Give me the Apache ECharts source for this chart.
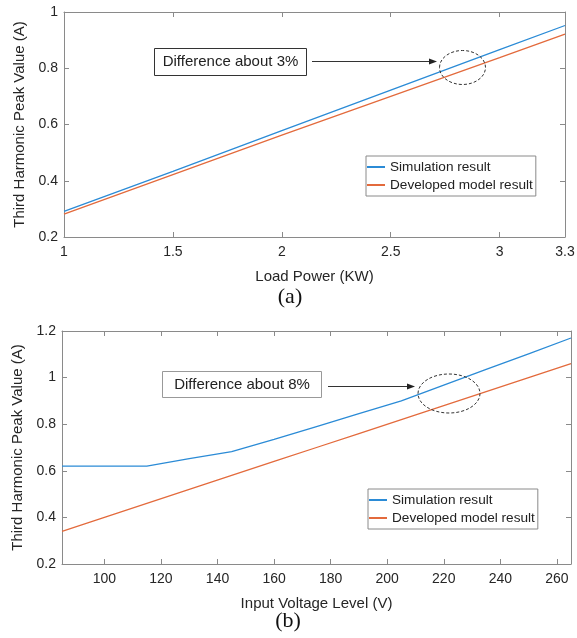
<!DOCTYPE html>
<html>
<head>
<meta charset="utf-8">
<script src="https://cdn.jsdelivr.net/npm/echarts@6/dist/echarts.min.js"></script>
<style>
  html, body { margin: 0; padding: 0; background: #fff; }
  #chart { width: 577px; height: 638px; }
</style>
</head>
<body>
<div id="chart"></div>
<script>
// (a) third harmonic vs load power
const powerKW = [1, 1.5, 2, 2.5, 3, 3.3]
const simA = [0.291, 0.433, 0.578, 0.722, 0.866, 0.952]
const modelA = [0.281, 0.422, 0.562, 0.700, 0.838, 0.921]
const powerTicks = [1, 1.5, 2, 2.5, 3, 3.3]

// (b) third harmonic vs input voltage
const voltageV = [85, 100, 115, 130, 145, 160, 175, 190, 205, 220, 235, 250, 265]
const simB = [0.62, 0.62, 0.62, 0.652, 0.682, 0.735, 0.79, 0.845, 0.90, 0.968, 1.035, 1.102, 1.17]
const modelB = [0.34, 0.40, 0.46, 0.52, 0.58, 0.64, 0.70, 0.76, 0.82, 0.88, 0.94, 1.00, 1.06]
const voltageTicks = [100, 120, 140, 160, 180, 200, 220, 240, 260]

const seriesNames = ['Simulation result', 'Developed model result']
const colors = ['#2b8bd6', '#e36a3c']
const font = 'Liberation Sans, Arial, sans-serif'
const frame = '#8a8a8a'
const labelColor = '#262626'

const pairs = (xs, ys) => xs.map((x, i) => [x, ys[i]])

function xAxisPair (grid, min, max, ticks, name, nameGap) {
  const base = {
    type: 'value',
    gridIndex: grid,
    min: min,
    max: max,
    splitLine: { show: false },
    axisLine: { show: true, onZero: false, lineStyle: { color: frame, width: 1 } },
    axisTick: { show: true, inside: true, length: 5, customValues: ticks, lineStyle: { color: frame } }
  }
  return [
    Object.assign({}, base, {
      position: 'bottom',
      name: name,
      nameLocation: 'middle',
      nameGap: nameGap,
      nameTextStyle: { fontFamily: font, fontSize: 15, color: labelColor },
      axisLabel: { customValues: ticks, margin: 8, fontFamily: font, fontSize: 14, color: labelColor }
    }),
    Object.assign({}, base, { position: 'top', axisLabel: { show: false } })
  ]
}

function yAxisPair (grid, min, max, name, nameGap) {
  const base = {
    type: 'value',
    gridIndex: grid,
    min: min,
    max: max,
    interval: 0.2,
    splitLine: { show: false },
    axisLine: { show: true, onZero: false, lineStyle: { color: frame, width: 1 } },
    axisTick: { show: true, inside: true, length: 5, lineStyle: { color: frame } }
  }
  return [
    Object.assign({}, base, {
      position: 'left',
      name: name,
      nameLocation: 'middle',
      nameGap: nameGap,
      nameTextStyle: { fontFamily: font, fontSize: 15, color: labelColor },
      axisLabel: { margin: 6, fontFamily: font, fontSize: 14, color: labelColor }
    }),
    Object.assign({}, base, { position: 'right', axisLabel: { show: false } })
  ]
}

function lineSeries (name, idx, xi, yi, data) {
  return {
    name: name,
    type: 'line',
    xAxisIndex: xi,
    yAxisIndex: yi,
    symbol: 'none',
    smooth: false,
    animation: false,
    color: colors[idx],
    lineStyle: { color: colors[idx], width: 1.3 },
    data: data
  }
}

function legendBox (left, top) {
  return {
    data: seriesNames,
    orient: 'vertical',
    left: left,
    top: top,
    padding: [4, 3, 4, 1],
    itemGap: 4,
    itemWidth: 18,
    itemHeight: 2,
    icon: 'rect',
    borderColor: frame,
    borderWidth: 1,
    backgroundColor: '#fff',
    selectedMode: false,
    textStyle: { fontFamily: font, fontSize: 13.6, color: '#222' }
  }
}

function noteBox (x, y, w, h, text, stroke) {
  return {
    type: 'group',
    children: [
      { type: 'rect', shape: { x: x, y: y, width: w, height: h }, style: { fill: '#fff', stroke: stroke, lineWidth: 1 } },
      { type: 'text', x: x + w / 2, y: y + h / 2, style: { text: text, font: '15px ' + font, fill: '#222', align: 'center', verticalAlign: 'middle' } }
    ]
  }
}

function arrow (x1, x2, y) {
  return {
    type: 'group',
    children: [
      { type: 'line', shape: { x1: x1, y1: y, x2: x2 - 6, y2: y }, style: { stroke: '#333', lineWidth: 1 } },
      { type: 'polygon', shape: { points: [[x2, y], [x2 - 8, y - 3], [x2 - 8, y + 3]] }, style: { fill: '#222' } }
    ]
  }
}

function ring (cx, cy, rx, ry) {
  return { type: 'ellipse', shape: { cx: cx, cy: cy, rx: rx, ry: ry }, style: { fill: 'none', stroke: '#333', lineWidth: 1, lineDash: [3, 2] }, z: 10 }
}

const chart = echarts.init(document.getElementById('chart'), null, { renderer: 'canvas' })
chart.setOption({
  animation: false,
  backgroundColor: '#fff',
  grid: [
    { left: 64, top: 12, width: 501, height: 225, outerBoundsMode: 'none' },
    { left: 62, top: 331, width: 509, height: 233, outerBoundsMode: 'none' }
  ],
  xAxis: [].concat(
    xAxisPair(0, 1, 3.3, powerTicks, 'Load Power (KW)', 32),
    xAxisPair(1, 85, 265, voltageTicks, 'Input Voltage Level (V)', 32)
  ),
  yAxis: [].concat(
    yAxisPair(0, 0.2, 1, 'Third Harmonic Peak Value (A)', 31),
    yAxisPair(1, 0.2, 1.2, 'Third Harmonic Peak Value (A)', 33)
  ),
  legend: [legendBox(366, 156), legendBox(368, 489)],
  title: [
    { text: '(a)', left: 290, top: 297, textAlign: 'center', textVerticalAlign: 'middle', padding: 0, textStyle: { fontFamily: 'Liberation Serif, Times New Roman, serif', fontSize: 22, fontWeight: 'normal', color: '#111' } },
    { text: '(b)', left: 288, top: 621, textAlign: 'center', textVerticalAlign: 'middle', padding: 0, textStyle: { fontFamily: 'Liberation Serif, Times New Roman, serif', fontSize: 22, fontWeight: 'normal', color: '#111' } }
  ],
  series: [
    lineSeries(seriesNames[0], 0, 0, 0, pairs(powerKW, simA)),
    lineSeries(seriesNames[1], 1, 0, 0, pairs(powerKW, modelA)),
    lineSeries(seriesNames[0], 0, 2, 2, pairs(voltageV, simB)),
    lineSeries(seriesNames[1], 1, 2, 2, pairs(voltageV, modelB))
  ],
  graphic: [
    noteBox(154.5, 48.5, 152, 27, 'Difference about 3%', '#333'),
    arrow(312, 437, 61.5),
    ring(462.5, 67.5, 23, 17),
    noteBox(162.5, 371.5, 159, 26, 'Difference about 8%', '#999'),
    arrow(328, 415, 386.5),
    ring(449, 393.5, 31, 19.5)
  ]
})
</script>
</body>
</html>
